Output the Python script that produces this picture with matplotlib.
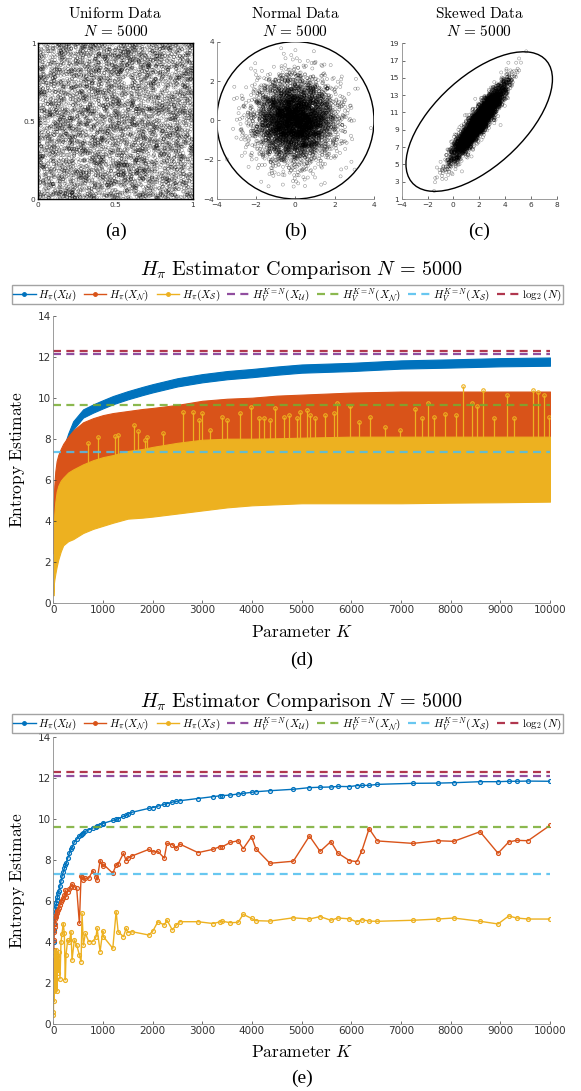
import numpy as np
import matplotlib
matplotlib.use('Agg')
import matplotlib.pyplot as plt
from matplotlib.patches import Circle
from matplotlib.transforms import Affine2D
from matplotlib.lines import Line2D

plt.rcParams['mathtext.fontset'] = 'cm'
plt.rcParams['font.family'] = ['DejaVu Sans']

# MATLAB default colours
c_blue = '#0072BD'
c_orange = '#D95319'
c_yellow = '#EDB120'
c_purple = '#7E2F8E'
c_green = '#77AC30'
c_cyan = '#4DBEEE'
c_red = '#A2142F'
txt_col = '#333333'
spine_col = '#8c8c8c'

# ---------------- top row: sample clouds ----------------
N = 5000
normal_sd = 1.0
skew_mean = (2.0, 10.0)
skew_slope = 1.9
skew_sd = (1.0, 0.8)
circle_r = 4.0
ell_center = (2.0, 9.95)
ell_matrix = (5.67, 4.90, 0.0, 6.41)   # unit circle -> ellipse

rng = np.random.default_rng(5000)
unif = rng.uniform(0, 1, (N, 2))
norm = rng.normal(0, normal_sd, (N, 2))
z = rng.normal(0, 1, (N, 2))
skew_x = skew_mean[0] + skew_sd[0] * z[:, 0]
skew_y = skew_mean[1] + skew_slope * (skew_x - skew_mean[0]) + skew_sd[1] * z[:, 1]

# ---------------- (d): all K, drawn as bands ----------------
K_band = [1, 5, 10, 20, 40, 67, 100, 150, 200, 300, 400, 600, 800, 1000, 1200, 1500,
          1800, 2000, 2500, 3000, 3500, 4000, 4500, 5000, 6000, 7000, 8000, 9000, 10000]
blue_lo = [2.6, 3.3, 4.0, 4.6, 5.1, 5.6, 6.1, 6.63, 7.1, 7.85, 8.45, 9.03, 9.27, 9.48,
           9.68, 9.92, 10.13, 10.26, 10.55, 10.75, 10.9, 11.0, 11.12, 11.22, 11.3, 11.42,
           11.47, 11.53, 11.56]
blue_hi = [4.4, 4.8, 5.0, 5.3, 5.75, 6.15, 6.55, 7.03, 7.5, 8.25, 8.85, 9.43, 9.67, 9.88,
           10.08, 10.32, 10.53, 10.66, 10.95, 11.15, 11.3, 11.4, 11.52, 11.62, 11.7, 11.82,
           11.87, 11.93, 11.96]
orange_lo = [2.4, 2.8, 3.2, 3.6, 4.1, 4.6, 5.0, 5.3, 5.5, 5.8, 6.0, 6.3, 6.5, 6.7, 6.8,
             7.0, 7.1, 7.2, 7.3, 7.4, 7.45, 7.5, 7.55, 7.6, 7.7, 7.7, 7.7, 7.7, 7.7]
orange_hi = [3.4, 4.4, 5.0, 5.7, 6.4, 6.9, 7.2, 7.5, 7.75, 8.1, 8.4, 8.8, 9.0, 9.15, 9.25,
             9.35, 9.45, 9.5, 9.65, 9.85, 9.95, 10.0, 10.1, 10.15, 10.25, 10.3, 10.3, 10.3,
             10.3]
yellow_lo = [0.35, 0.6, 0.9, 1.1, 1.4, 1.75, 2.1, 2.5, 2.8, 3.0, 3.1, 3.4, 3.6, 3.75, 3.9,
             4.1, 4.15, 4.2, 4.35, 4.5, 4.65, 4.75, 4.8, 4.85, 4.85, 4.85, 4.88, 4.9, 4.93]
yellow_hi = [1.6, 2.8, 3.6, 4.3, 4.9, 5.4, 5.7, 5.95, 6.1, 6.35, 6.5, 6.75, 6.95, 7.1, 7.2,
             7.4, 7.5, 7.6, 7.8, 7.95, 8.0, 8.0, 8.02, 8.05, 8.1, 8.1, 8.1, 8.1, 8.1]
spike_k = [706, 907, 1244, 1311, 1627, 1700, 1849, 1883, 2200, 2608, 2810, 2937, 2991,
           3159, 3395, 3496, 3764, 3979, 4133, 4234, 4369, 4470, 4637, 4738, 4906, 4973,
           5108, 5175, 5276, 5478, 5645, 5712, 5982, 6149, 6385, 6687, 6990, 7292, 7427,
           7548, 7661, 7883, 8099, 8254, 8435, 8522, 8657, 8871, 9141, 9274, 9665, 9758,
           9879, 9980]
spike_top = [7.78, 8.1, 8.13, 8.18, 8.67, 8.37, 7.93, 8.06, 8.3, 9.32, 9.32, 8.9, 9.24,
             8.42, 9.07, 8.91, 9.24, 9.56, 8.99, 8.99, 8.91, 9.48, 9.07, 9.15, 8.99, 9.32,
             9.40, 9.15, 8.99, 9.15, 9.24, 9.75, 9.6, 8.83, 9.07, 8.58, 8.42, 9.44, 9.0,
             9.72, 9.07, 9.2, 9.15, 10.57, 9.72, 9.6, 10.37, 8.99, 10.13, 8.99, 10.37, 10.29,
             10.13, 9.07]

# ---------------- (e): subset of K ----------------
K_e = [1, 3, 7, 12, 18, 27, 35, 44, 54, 64, 74, 84, 94, 110, 135, 155, 175, 200,
       222, 242, 256, 289, 323, 357, 377, 424, 471, 525, 559, 579, 606, 646, 713, 794,
       861, 882, 942, 996, 1009, 1198, 1265, 1306, 1413, 1467, 1501, 1588, 1925, 2005,
       2106, 2234, 2288, 2396, 2476, 2544, 2914, 3217, 3351, 3405, 3567, 3722, 3823,
       3991, 4078, 4361, 4832, 5157, 5372, 5587, 5728, 5962, 6110, 6211, 6358, 6525,
       7243, 7740, 8062, 8592, 8954, 9169, 9330, 9557, 10000]
blue_e = [2.6, 3.3, 4.0, 4.6, 4.9, 5.2, 5.4, 5.6, 5.75, 5.9, 6.05, 6.2, 6.37, 6.5, 6.75,
          6.98, 7.2, 7.4, 7.59, 7.74, 7.84, 8.09, 8.33, 8.52, 8.62, 8.88, 9.01, 9.17, 9.23,
          9.27, 9.32, 9.40, 9.47, 9.56, 9.63, 9.65, 9.72, 9.78, 9.79, 9.93, 9.98, 10.01,
          10.13, 10.18, 10.23, 10.33, 10.52, 10.56, 10.63, 10.72, 10.75, 10.82, 10.86,
          10.89, 11.0, 11.09, 11.13, 11.14, 11.17, 11.22, 11.25, 11.30, 11.33, 11.38,
          11.45, 11.53, 11.55, 11.56, 11.59, 11.58, 11.63, 11.64, 11.64, 11.69, 11.74,
          11.75, 11.77, 11.82, 11.82, 11.84, 11.84, 11.85, 11.84]
orange_e = [2.0, 2.5, 3.6, 4.1, 4.5, 4.75, 4.9, 5.1, 5.24, 5.3, 5.40, 5.5, 5.56, 5.65,
            5.80, 5.95, 6.05, 6.15, 6.29, 6.54, 6.21, 6.46, 6.59, 6.70, 6.83, 6.70, 6.62,
            4.91, 7.22, 7.19, 7.02, 7.11, 7.11, 7.48, 7.19, 7.02, 7.97, 7.71, 7.79, 7.35,
            7.76, 7.81, 8.33, 7.97, 8.09, 8.20, 8.52, 8.39, 8.42, 8.09, 8.81, 8.75, 8.57,
            8.78, 8.36, 8.52, 8.65, 8.65, 8.86, 8.94, 8.55, 9.14, 8.55, 7.84, 7.94, 9.17,
            8.42, 8.90, 8.34, 7.97, 7.92, 8.44, 9.53, 8.93, 8.81, 8.94, 8.91, 9.38, 8.33,
            8.88, 8.96, 8.94, 9.69]
yellow_e = [0.45, 0.6, 1.6, 2.1, 1.1, 3.5, 1.7, 3.3, 2.2, 3.6, 1.6, 3.3, 2.5, 3.5, 2.2,
            4.0, 4.4, 4.9, 4.42, 2.15, 3.37, 4.1, 4.02, 4.5, 3.12, 4.1, 3.85, 3.37, 3.04,
            5.4, 3.85, 4.42, 4.02, 4.02, 4.26, 4.67, 3.53, 4.54, 4.26, 3.69, 5.48, 4.5,
            4.26, 4.67, 4.46, 4.5, 4.34, 4.54, 4.99, 4.83, 5.07, 4.59, 4.83, 4.99, 4.99,
            4.90, 4.98, 5.01, 4.94, 4.96, 5.35, 5.15, 5.04, 5.02, 5.18, 5.12, 5.24, 5.06,
            5.17, 5.13, 4.98, 5.09, 5.02, 5.01, 5.06, 5.12, 5.17, 5.01, 4.88, 5.27, 5.17,
            5.12, 5.12]

# reference levels
hv_u = 12.11
hv_n = 9.62
hv_s = 7.33
log2N = np.log2(N)

labels = [r'$H_\pi(X_\mathcal{U})$', r'$H_\pi(X_\mathcal{N})$', r'$H_\pi(X_\mathcal{S})$',
          r'$H_V^{K=N}(X_\mathcal{U})$', r'$H_V^{K=N}(X_\mathcal{N})$',
          r'$H_V^{K=N}(X_\mathcal{S})$', r'$\log_2(N)$']

W, H = 581, 1091
fig = plt.figure(figsize=(W / 100, H / 100), dpi=100)


def box(l, t, r, b):
    return [l / W, 1 - b / H, (r - l) / W, (b - t) / H]


def style_ax(ax, size, xpad=1.5, ypad=1.5):
    ax.tick_params(direction='in', length=2.5, width=0.5, labelsize=size,
                   colors=txt_col)
    ax.tick_params(axis='x', pad=xpad)
    ax.tick_params(axis='y', pad=ypad)
    for s in ax.spines.values():
        s.set_color(spine_col)
        s.set_linewidth(0.6)


# scatter panels
scat_kw = dict(s=5, facecolors='none', edgecolors='black', linewidths=0.35, alpha=0.45)

ax_a = fig.add_axes(box(38.3, 43.3, 192.7, 199))
ax_a.scatter(unif[:, 0], unif[:, 1], **scat_kw)
ax_a.set_xlim(0, 1)
ax_a.set_ylim(0, 1)
ax_a.set_xticks([0, 0.5, 1])
ax_a.set_yticks([0, 0.5, 1])
ax_a.set_xticklabels(['0', '0.5', '1'])
ax_a.set_yticklabels(['0', '0.5', '1'])
style_ax(ax_a, 5.3, 2.5, 2.0)
for s in ax_a.spines.values():
    s.set_color('black')
    s.set_linewidth(1.0)

ax_b = fig.add_axes(box(216.7, 41.7, 374, 199))
ax_b.scatter(norm[:, 0], norm[:, 1], **scat_kw)
ax_b.add_patch(Circle((0, 0), circle_r, fill=False, color='black', lw=1.0))
ax_b.set_xlim(-4, 4)
ax_b.set_ylim(-4, 4)
ax_b.set_xticks([-4, -2, 0, 2, 4])
ax_b.set_yticks([-4, -2, 0, 2, 4])
style_ax(ax_b, 5.3, 2.5, 2.0)
ax_b.spines['top'].set_visible(False)
ax_b.spines['right'].set_visible(False)

ax_c = fig.add_axes(box(401.7, 43.3, 556.7, 199))
ax_c.scatter(skew_x, skew_y, **scat_kw)
ell_tr = Affine2D().from_values(ell_matrix[0], ell_matrix[1], ell_matrix[2],
                                ell_matrix[3], ell_center[0], ell_center[1])
ax_c.add_patch(Circle((0, 0), 1, fill=False, color='black', lw=1.0,
                      transform=ell_tr + ax_c.transData))
ax_c.set_xlim(-4, 8)
ax_c.set_ylim(1, 19)
ax_c.set_xticks(range(-4, 9, 2))
ax_c.set_yticks(range(1, 20, 2))
style_ax(ax_c, 5.3, 2.5, 2.0)
ax_c.spines['top'].set_visible(False)
ax_c.spines['right'].set_visible(False)

for cx, name, lab in [(115.5, 'Uniform', '(a)'), (295.3, 'Normal', '(b)'),
                      (479.2, 'Skewed', '(c)')]:
    fig.text(cx / W, 1 - 13 / H, r'$\mathrm{%s\ Data}$' % name, ha='center',
             va='center', fontsize=11)
    fig.text(cx / W, 1 - 31 / H, r'$N\,=\,5000$', ha='center', va='center', fontsize=11)
    fig.text(cx / W, 1 - 231 / H, lab, ha='center', va='center', fontsize=14,
             family='Liberation Serif')

dash_kw = dict(lw=1.6, dashes=(3.6, 2.4), alpha=0.85)
handles = [Line2D([], [], color=c_blue, marker='o', ms=2.5, lw=1),
           Line2D([], [], color=c_orange, marker='o', ms=2.5, lw=1),
           Line2D([], [], color=c_yellow, marker='o', ms=2.5, lw=1),
           Line2D([], [], color=c_purple, **dash_kw),
           Line2D([], [], color=c_green, **dash_kw),
           Line2D([], [], color=c_cyan, **dash_kw),
           Line2D([], [], color=c_red, **dash_kw)]


def big_axes(top, bottom, title_y, legend_y, xlabel_y, panel_y, panel):
    ax = fig.add_axes(box(53.3, top, 550, bottom))
    ax.set_xlim(0, 10000)
    ax.set_ylim(0, 14)
    ax.set_xticks(range(0, 10001, 1000))
    ax.set_yticks(range(0, 15, 2))
    style_ax(ax, 7.5)
    ax.spines['top'].set_visible(False)
    ax.spines['right'].set_visible(False)
    cx = (53.3 + 550) / 2 / W
    fig.text(cx, 1 - title_y / H, r'$H_\pi\ \mathrm{Estimator\ Comparison}\ N\,=\,5000$',
             ha='center', va='center', fontsize=14.5)
    fig.legend(handles, labels, loc='center', bbox_to_anchor=(287.5 / W, 1 - legend_y / H),
               ncol=7, fontsize=8, frameon=True, fancybox=False, edgecolor=spine_col,
               handlelength=2.0, handletextpad=0.25, columnspacing=0.65,
               borderpad=0.12, borderaxespad=0)
    fig.text(cx, 1 - xlabel_y / H, r'$\mathrm{Parameter}\ K$', ha='center',
             va='center', fontsize=12.5)
    fig.text(18 / W, 1 - (top + bottom) / 2 / H, r'$\mathrm{Entropy\ Estimate}$',
             ha='center', va='center', rotation=90, fontsize=12.5)
    fig.text(cx, 1 - panel_y / H, panel, ha='center', va='center', fontsize=14,
             family='Liberation Serif')
    return ax


def ref_lines(ax):
    for lvl, col in [(hv_u, c_purple), (hv_n, c_green), (hv_s, c_cyan), (log2N, c_red)]:
        ax.plot([0, 10000], [lvl, lvl], color=col, **dash_kw)


# (d)
ax_d = big_axes(315.7, 602.7, 270, 294.5, 632, 660, '(d)')
ax_d.fill_between(K_band, blue_lo, blue_hi, color=c_blue, lw=0.8, edgecolor=c_blue)
ax_d.fill_between(K_band, orange_lo, orange_hi, color=c_orange, lw=0.8, edgecolor=c_orange)
ax_d.fill_between(K_band, yellow_lo, yellow_hi, color=c_yellow, lw=0.8, edgecolor=c_yellow)
spike_base = np.interp(spike_k, K_band, yellow_hi) - 1.0
ax_d.vlines(spike_k, spike_base, spike_top, color=c_yellow, lw=0.9)
ax_d.plot(spike_k, spike_top, 'o', color=c_yellow, ms=2.5, mfc='none', mew=0.8)
ref_lines(ax_d)

# (e)
ax_e = big_axes(737, 1024, 702, 723.5, 1052, 1078, '(e)')
for vals, col in [(blue_e, c_blue), (orange_e, c_orange), (yellow_e, c_yellow)]:
    ax_e.plot(K_e, vals, '-o', color=col, lw=1.0, ms=2.8, mfc='none', mew=0.9)
ref_lines(ax_e)

fig.savefig('out.png', dpi=100)
